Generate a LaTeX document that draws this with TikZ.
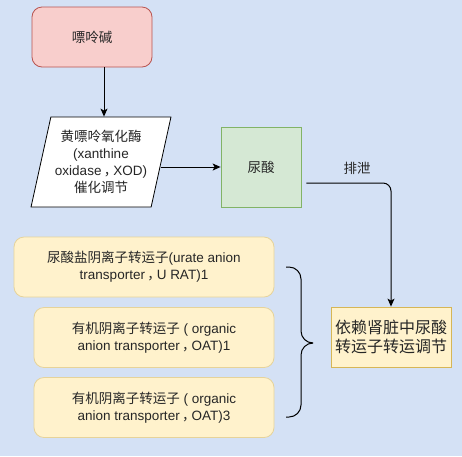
\documentclass[tikz,border=0pt]{standalone}
\usepackage{fontspec}
\setmainfont{Liberation Sans}
\newfontfamily\cjk{Noto Sans CJK SC}
\usepackage{tikz}
\usepackage{xcolor}
\usetikzlibrary{arrows.meta, positioning, shapes.geometric}

\definecolor{bgblue}{HTML}{D4E1F5}
\definecolor{redfill}{HTML}{F8CECC}
\definecolor{redline}{HTML}{B85450}
\definecolor{greenfill}{HTML}{D5E8D4}
\definecolor{greenline}{HTML}{82B366}
\definecolor{yellowfill}{HTML}{FFF2CC}
\definecolor{yellowline}{HTML}{D6B656}
\newcommand{\zhcomma}{\,{\cjk ，}\kern-4pt}

\begin{document}
\begin{tikzpicture}[x=1pt, y=-1pt,
    box/.style={draw, line width=0.8pt, align=center, inner sep=0pt, text=black!85,
        font=\fontsize{13.5}{17}\selectfont},
    tbox/.style={box, rounded corners=10pt, fill=yellowfill, draw=yellowline!60,
        minimum height=60pt},
    arr/.style={-{Stealth[length=8pt, width=7pt, inset=2pt]}, line width=1pt}]
    % background
    \fill[bgblue] (0,0) rectangle (462,456);
    \useasboundingbox (0,0) rectangle (462,456);

    % purine -> xanthine oxidase -> uric acid
    \node[box, rounded corners=10pt, fill=redfill, draw=redline,
        minimum width=120pt, minimum height=60pt] (pb) at (92,37) {\cjk 嘌呤碱};
    \node[box, trapezium, trapezium left angle=74, trapezium right angle=106,
        trapezium stretches=true, fill=white, minimum width=140pt, minimum height=90pt]
        (xod) at (101,162)
        {\cjk 黄嘌呤氧化酶\\(xanthine\\oxidase\zhcomma XOD)\\\cjk 催化调节};
    \node[box, fill=greenfill, draw=greenline, minimum width=80pt, minimum height=80pt]
        (ua) at (261,167) {\cjk 尿酸};

    % kidney transport
    \node[box, fill=yellowfill, draw=yellowline, minimum width=120pt, minimum height=60pt,
        font=\fontsize{16}{19}\selectfont] (kid) at (391,337)
        {\cjk 依赖肾脏中尿酸\\\cjk 转运子转运调节};

    \node[tbox, minimum width=260pt] (urat) at (144,267)
        {{\cjk 尿酸盐阴离子转运子}(urate anion\\transporter\zhcomma U RAT)1};
    \node[tbox, minimum width=240pt] (oat1) at (154,337.5)
        {{\cjk 有机阴离子转运子} ( organic\\anion transporter\zhcomma OAT)1};
    \node[tbox, minimum width=240pt] (oat3) at (154,407.5)
        {{\cjk 有机阴离子转运子} ( organic\\anion transporter\zhcomma OAT)3};

    % connectors
    \coordinate (out) at ([xshift=5pt, yshift=-16pt]ua.east);
    \draw[arr] ([xshift=12pt]pb.south) -- ([xshift=12pt]pb.south |- xod.north);
    \draw[arr] (xod.east |- ua.west) -- (ua.west);
    \draw[arr, rounded corners=8pt] (out) -| node[pos=0.3, above=5pt,
        font=\fontsize{13.5}{17}\selectfont, text=black!85] (pxlabel) {\cjk 排泄} (kid.north);

    % brace
    \draw[line width=1pt, rounded corners=12pt] (286,267) -- (301,267) -- (301,343) -- (313,343);
    \draw[line width=1pt, rounded corners=12pt] (313,343) -- (301,343) -- (301,417) -- (286,417);
\end{tikzpicture}
\end{document}
